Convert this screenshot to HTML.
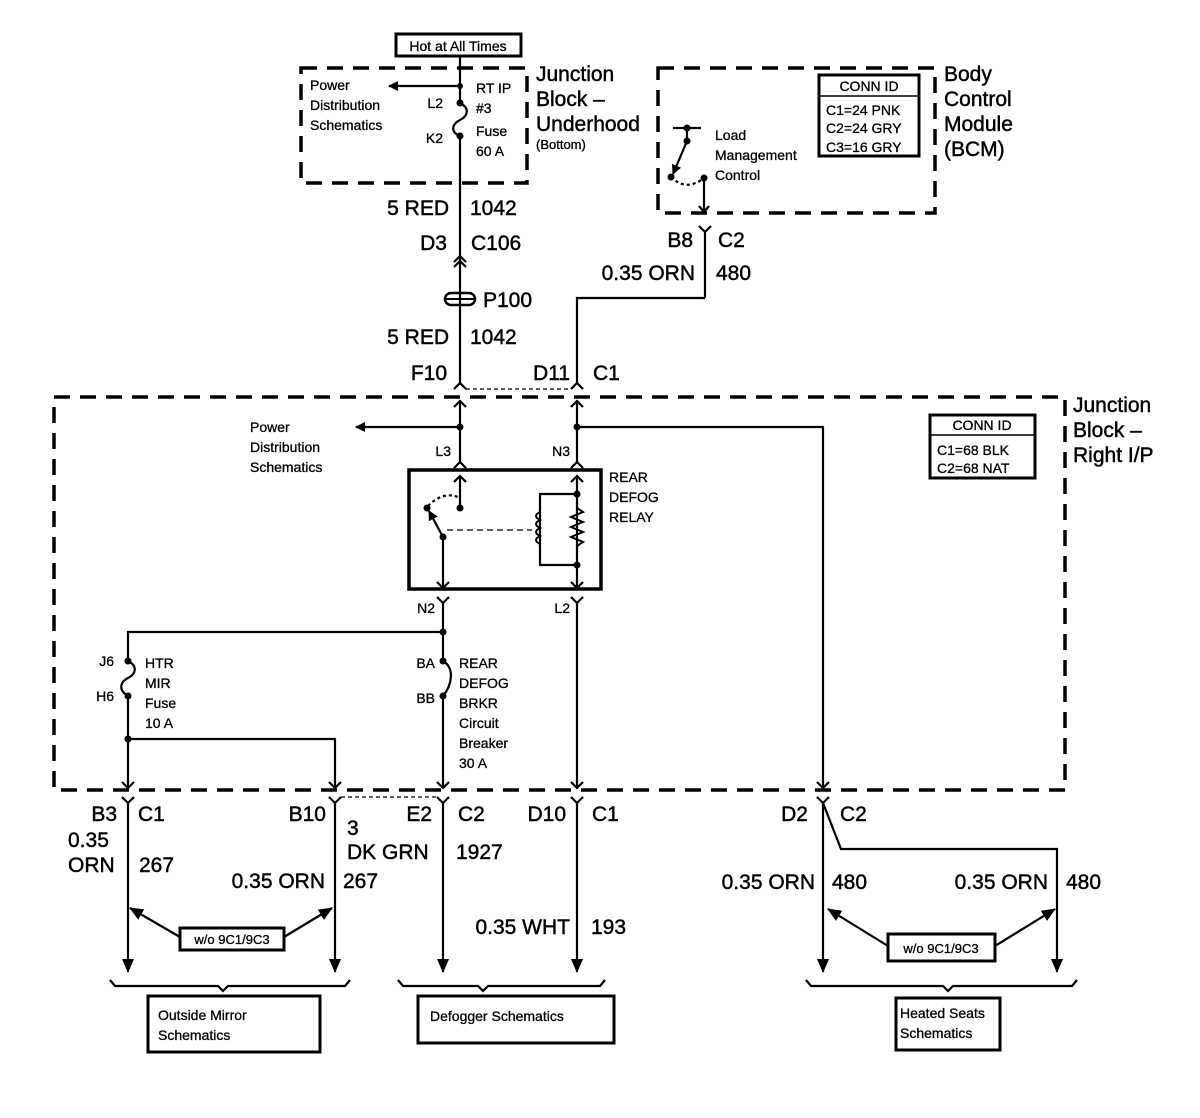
<!DOCTYPE html>
<html><head><style>
html,body{margin:0;padding:0;background:#fff;}
svg{display:block;}
text{font-family:"Liberation Sans",Arial,sans-serif;fill:#000;stroke:#000;stroke-width:0.45;}
.s{font-size:14px;stroke-width:0.3;}
.m{font-size:21px;}
.l{font-size:21px;}
</style></head><body>
<svg width="1200" height="1118" viewBox="0 0 1200 1118" xmlns="http://www.w3.org/2000/svg">
<defs>
<marker id="ah" markerWidth="10" markerHeight="10" refX="9" refY="5" orient="auto" markerUnits="userSpaceOnUse">
<path d="M0,0 L10,5 L0,10 z" fill="#000"/></marker>
<marker id="ahb" markerWidth="14" markerHeight="14" refX="13" refY="7" orient="auto" markerUnits="userSpaceOnUse">
<path d="M0,1 L14,7 L0,13 z" fill="#000"/></marker>
</defs>
<g fill="none" stroke="#000">
<rect x="301" y="68" width="226" height="115" stroke-width="3.5" stroke-dasharray="16,10"/>
<rect x="658" y="68" width="277" height="145" stroke-width="3.5" stroke-dasharray="16,10"/>
<rect x="54" y="397" width="1011" height="393" stroke-width="3.5" stroke-dasharray="16,10"/>
<rect x="396" y="34" width="125" height="22" stroke-width="3"/>
<rect x="819" y="75" width="100" height="81" stroke-width="3"/>
<line x1="819" y1="96" x2="919" y2="96" stroke-width="1.5"/>
<rect x="930" y="415" width="105" height="63" stroke-width="3"/>
<line x1="930" y1="435" x2="1035" y2="435" stroke-width="1.5"/>
<rect x="409" y="470" width="192" height="119" stroke-width="3.5"/>
<rect x="180" y="928" width="104" height="22" stroke-width="3"/>
<rect x="888" y="934" width="107" height="27" stroke-width="3"/>
<rect x="148" y="996" width="172" height="56" stroke-width="3"/>
<rect x="418" y="996" width="196" height="47" stroke-width="3"/>
<rect x="896" y="998" width="104" height="52" stroke-width="3"/>

<g stroke-width="2.2">
<line x1="460" y1="56" x2="460" y2="103"/>
<path d="M460,103 C470,108 468,116 460,120 C452,124 450,132 460,136"/>
<line x1="460" y1="136" x2="460" y2="383"/>
<line x1="460" y1="86" x2="389" y2="86" marker-end="url(#ah)"/>
<polyline points="454,262 460,256 466,262"/>
<polyline points="454,267 460,261 466,267"/>
<polyline points="454,389 460,383 466,389"/>
<polyline points="571,389 577,383 583,389"/>
<line x1="466" y1="389" x2="571" y2="389" stroke-dasharray="4,3" stroke-width="1.2"/>
<polyline points="705,298 705,232"/>
<polyline points="699,226 705,232 711,226"/>
<polyline points="577,383 577,298 705,298"/>
<line x1="673" y1="128" x2="701" y2="128"/>
<line x1="687" y1="128" x2="687" y2="141"/>
<line x1="687" y1="141" x2="673" y2="174" marker-end="url(#ah)"/>
<path d="M671,177 Q686,192 704,178" stroke-dasharray="3,3"/>
<line x1="704" y1="178" x2="704" y2="213"/>
<polyline points="699,206 704,212 709,206"/>
<line x1="460" y1="401" x2="460" y2="462"/>
<polyline points="454,407 460,401 466,407"/>
<polyline points="454,468 460,462 466,468"/>
<line x1="460" y1="427" x2="356" y2="427" marker-end="url(#ah)"/>
<line x1="577" y1="401" x2="577" y2="462"/>
<polyline points="571,407 577,401 583,407"/>
<polyline points="571,468 577,462 583,468"/>
<polyline points="577,427 823,427 823,788"/>
<polyline points="817,782 823,788 829,782"/>
<line x1="460" y1="476" x2="460" y2="508"/>
<polyline points="454,482 460,476 466,482"/>
<path d="M428,506 Q444,490 460,498" stroke-dasharray="3,3"/>
<line x1="443" y1="537" x2="429" y2="511" marker-end="url(#ah)"/>
<line x1="443" y1="537" x2="443" y2="588"/>
<polyline points="437,582 443,588 449,582"/>
<line x1="447" y1="530" x2="532" y2="530" stroke-dasharray="6,4" stroke-width="1.2"/>
<polyline points="577,565 540,565 540,494 577,494"/>
<line x1="577" y1="476" x2="577" y2="588"/>
<polyline points="571,482 577,476 583,482"/>
<polyline points="571,582 577,588 583,582"/>
<polyline points="437,597 443,603 449,597"/>
<polyline points="571,597 577,603 583,597"/>
<line x1="443" y1="603" x2="443" y2="661"/>
<line x1="577" y1="603" x2="577" y2="788"/>
<polyline points="571,782 577,788 583,782"/>
<polyline points="443,632 128,632 128,661"/>
<path d="M128,661 C138,666 136,674 128,678 C120,682 118,690 128,696"/>
<line x1="128" y1="696" x2="128" y2="788"/>
<polyline points="122,782 128,788 134,782"/>
<polyline points="128,739 335,739 335,788"/>
<polyline points="329,782 335,788 341,782"/>
<path d="M443,661 C455,668 452,685 443,696"/>
<line x1="443" y1="696" x2="443" y2="788"/>
<polyline points="437,782 443,788 449,782"/>
<polyline points="122,797 128,803 134,797"/>
<polyline points="329,797 335,803 341,797"/>
<polyline points="437,797 443,803 449,797"/>
<polyline points="571,797 577,803 583,797"/>
<polyline points="817,797 823,803 829,797"/>
<line x1="341" y1="797" x2="437" y2="797" stroke-dasharray="4,3" stroke-width="1.2"/>
<line x1="128" y1="803" x2="128" y2="972" marker-end="url(#ahb)"/>
<line x1="335" y1="803" x2="335" y2="972" marker-end="url(#ahb)"/>
<line x1="443" y1="803" x2="443" y2="972" marker-end="url(#ahb)"/>
<line x1="577" y1="803" x2="577" y2="972" marker-end="url(#ahb)"/>
<line x1="823" y1="803" x2="823" y2="972" marker-end="url(#ahb)"/>
<polyline points="823,803 841,849 1057,849 1057,972" marker-end="url(#ahb)"/>
<line x1="180" y1="937" x2="130" y2="908" marker-end="url(#ahb)"/>
<line x1="284" y1="937" x2="332" y2="908" marker-end="url(#ahb)"/>
<line x1="888" y1="946" x2="828" y2="909" marker-end="url(#ahb)"/>
<line x1="995" y1="946" x2="1055" y2="909" marker-end="url(#ahb)"/>
<path d="M110,980 L115,986 L218,986 L223,991 L228,986 L345,986 L350,980"/>
<path d="M398,980 L403,986 L478,986 L483,991 L488,986 L600,986 L605,980"/>
<path d="M806,980 L811,986 L943,986 L948,991 L953,986 L1072,986 L1077,980"/>
</g>
<path d="M540,512 q-8,4 0,8 q-8,4 0,8 q-8,4 0,8 q-8,4 0,8" stroke-width="2"/>
<path d="M577,508 l6,4 l-12,5 l12,5 l-12,5 l12,5 l-12,5 l12,5 l-6,4" stroke-width="2"/>
<rect x="445" y="293" width="30" height="12" rx="6" stroke-width="2.5"/>
<line x1="445" y1="299" x2="475" y2="299" stroke-width="2"/>
</g>
<g fill="#000">
<circle cx="460" cy="86" r="3"/><circle cx="460" cy="103" r="3.5"/><circle cx="460" cy="136" r="3.5"/>
<circle cx="687" cy="128" r="3.5"/><circle cx="687" cy="141" r="3.5"/><circle cx="671" cy="177" r="3.5"/><circle cx="704" cy="178" r="3.5"/>
<circle cx="460" cy="427" r="3.5"/><circle cx="577" cy="427" r="3.5"/>
<circle cx="460" cy="508" r="3.5"/><circle cx="427" cy="508" r="3.5"/><circle cx="443" cy="537" r="3.5"/>
<circle cx="577" cy="494" r="3.5"/><circle cx="577" cy="565" r="3.5"/>
<circle cx="443" cy="632" r="3.5"/><circle cx="128" cy="661" r="3.5"/><circle cx="128" cy="696" r="3.5"/><circle cx="128" cy="739" r="3.5"/>
<circle cx="443" cy="661" r="3.5"/><circle cx="443" cy="696" r="3.5"/>
</g>
<text x="458" y="51" class="s" text-anchor="middle">Hot at All Times</text>
<text x="310" y="90" class="s">Power</text>
<text x="310" y="110" class="s">Distribution</text>
<text x="310" y="130" class="s">Schematics</text>
<text x="443" y="108" class="s" text-anchor="end">L2</text>
<text x="443" y="143" class="s" text-anchor="end">K2</text>
<text x="476" y="93" class="s">RT IP</text>
<text x="476" y="113" class="s">#3</text>
<text x="476" y="136" class="s">Fuse</text>
<text x="476" y="156" class="s">60 A</text>
<text x="536" y="81" class="l">Junction</text>
<text x="536" y="106" class="l">Block –</text>
<text x="536" y="131" class="l">Underhood</text>
<text x="536" y="149" class="s" style="font-size:13px">(Bottom)</text>
<text x="869" y="91" class="s" text-anchor="middle">CONN ID</text>
<text x="826" y="115" class="s">C1=24 PNK</text>
<text x="826" y="133" class="s">C2=24 GRY</text>
<text x="826" y="152" class="s">C3=16 GRY</text>
<text x="944" y="81" class="l">Body</text>
<text x="944" y="106" class="l">Control</text>
<text x="944" y="131" class="l">Module</text>
<text x="944" y="156" class="l">(BCM)</text>
<text x="715" y="140" class="s">Load</text>
<text x="715" y="160" class="s">Management</text>
<text x="715" y="180" class="s">Control</text>
<text x="449" y="215" class="m" text-anchor="end">5 RED</text>
<text x="470" y="215" class="m">1042</text>
<text x="447" y="250" class="m" text-anchor="end">D3</text>
<text x="471" y="250" class="m">C106</text>
<text x="483" y="307" class="m">P100</text>
<text x="449" y="344" class="m" text-anchor="end">5 RED</text>
<text x="470" y="344" class="m">1042</text>
<text x="447" y="380" class="m" text-anchor="end">F10</text>
<text x="570" y="380" class="m" text-anchor="end">D11</text>
<text x="593" y="380" class="m">C1</text>
<text x="693" y="247" class="m" text-anchor="end">B8</text>
<text x="718" y="247" class="m">C2</text>
<text x="695" y="280" class="m" text-anchor="end">0.35 ORN</text>
<text x="716" y="280" class="m">480</text>
<text x="1073" y="412" class="l">Junction</text>
<text x="1073" y="437" class="l">Block –</text>
<text x="1073" y="462" class="l">Right I/P</text>
<text x="982" y="430" class="s" text-anchor="middle">CONN ID</text>
<text x="937" y="455" class="s">C1=68 BLK</text>
<text x="937" y="473" class="s">C2=68 NAT</text>
<text x="250" y="432" class="s">Power</text>
<text x="250" y="452" class="s">Distribution</text>
<text x="250" y="472" class="s">Schematics</text>
<text x="451" y="456" class="s" text-anchor="end">L3</text>
<text x="570" y="456" class="s" text-anchor="end">N3</text>
<text x="609" y="482" class="s">REAR</text>
<text x="609" y="502" class="s">DEFOG</text>
<text x="609" y="522" class="s">RELAY</text>
<text x="435" y="613" class="s" text-anchor="end">N2</text>
<text x="570" y="613" class="s" text-anchor="end">L2</text>
<text x="114" y="666" class="s" text-anchor="end">J6</text>
<text x="114" y="701" class="s" text-anchor="end">H6</text>
<text x="145" y="668" class="s">HTR</text>
<text x="145" y="688" class="s">MIR</text>
<text x="145" y="708" class="s">Fuse</text>
<text x="145" y="728" class="s">10 A</text>
<text x="435" y="668" class="s" text-anchor="end">BA</text>
<text x="435" y="703" class="s" text-anchor="end">BB</text>
<text x="459" y="668" class="s">REAR</text>
<text x="459" y="688" class="s">DEFOG</text>
<text x="459" y="708" class="s">BRKR</text>
<text x="459" y="728" class="s">Circuit</text>
<text x="459" y="748" class="s">Breaker</text>
<text x="459" y="768" class="s">30 A</text>
<text x="117" y="821" class="m" text-anchor="end">B3</text>
<text x="138" y="821" class="m">C1</text>
<text x="326" y="821" class="m" text-anchor="end">B10</text>
<text x="347" y="835" class="m">3</text>
<text x="432" y="821" class="m" text-anchor="end">E2</text>
<text x="458" y="821" class="m">C2</text>
<text x="566" y="821" class="m" text-anchor="end">D10</text>
<text x="592" y="821" class="m">C1</text>
<text x="808" y="821" class="m" text-anchor="end">D2</text>
<text x="840" y="821" class="m">C2</text>
<text x="68" y="847" class="m">0.35</text>
<text x="68" y="872" class="m">ORN</text>
<text x="139" y="872" class="m">267</text>
<text x="347" y="859" class="m">DK GRN</text>
<text x="456" y="859" class="m">1927</text>
<text x="325" y="888" class="m" text-anchor="end">0.35 ORN</text>
<text x="343" y="888" class="m">267</text>
<text x="570" y="934" class="m" text-anchor="end">0.35 WHT</text>
<text x="591" y="934" class="m">193</text>
<text x="815" y="889" class="m" text-anchor="end">0.35 ORN</text>
<text x="832" y="889" class="m">480</text>
<text x="1048" y="889" class="m" text-anchor="end">0.35 ORN</text>
<text x="1066" y="889" class="m">480</text>
<text x="232" y="944" class="s" style="font-size:13px" text-anchor="middle">w/o 9C1/9C3</text>
<text x="941" y="953" class="s" style="font-size:13px" text-anchor="middle">w/o 9C1/9C3</text>
<text x="158" y="1020" class="s">Outside Mirror</text>
<text x="158" y="1040" class="s">Schematics</text>
<text x="430" y="1021" class="s">Defogger Schematics</text>
<text x="900" y="1018" class="s">Heated Seats</text>
<text x="900" y="1038" class="s">Schematics</text>
</svg>
</body></html>
